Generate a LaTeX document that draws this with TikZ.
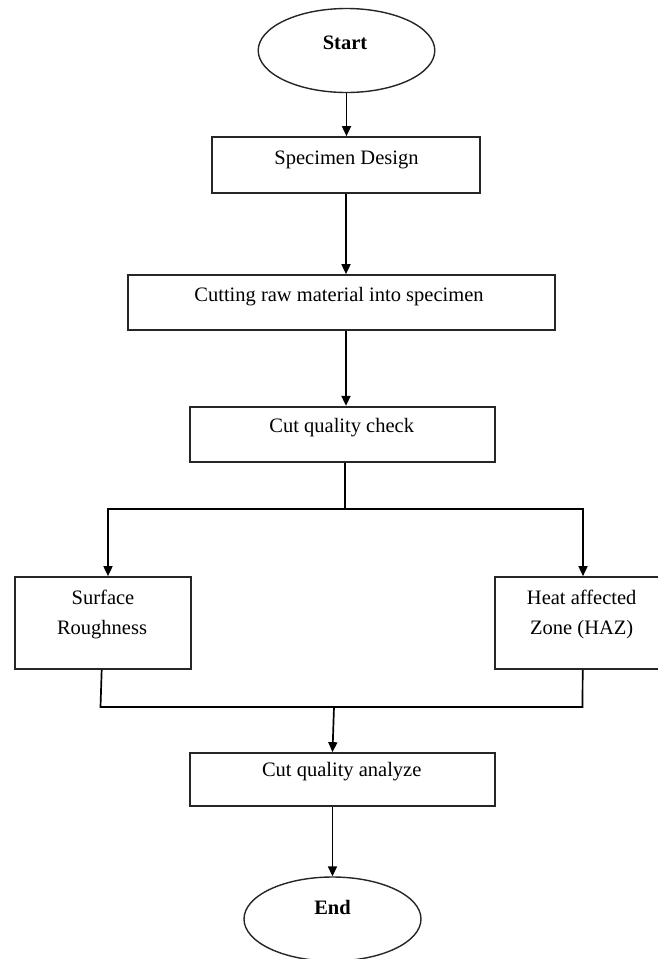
\documentclass[tikz,border=0pt]{standalone}
\usepackage{fontspec}
\setmainfont{Liberation Serif}
\usetikzlibrary{arrows.meta,shapes.geometric,calc}
\begin{document}
\begin{tikzpicture}[x=1pt,y=-1pt,line width=1.7pt,
  stepbox/.style={draw=black!85,line width=1.7pt,rectangle,inner sep=0pt},
  termbox/.style={draw=black!85,line width=1.4pt,ellipse,inner sep=0pt},
  lbl/.style={anchor=base,inner sep=0pt,font=\fontsize{20.5}{30}\selectfont},
  arr/.style={-{Triangle[length=10pt,width=9pt]}}]
\clip (0,0) rectangle (658,959);
\fill[white] (0,0) rectangle (658,959);
% shapes
\node[termbox,minimum width=176.6pt,minimum height=84pt] (start) at (346.5,50.5) {};
\node[stepbox,minimum width=268pt,minimum height=56pt] (sd) at (346,165) {};
\node[stepbox,minimum width=427pt,minimum height=55pt] (cut) at (341.5,302.5) {};
\node[stepbox,minimum width=304.7pt,minimum height=55pt] (cqc) at (342.3,434.2) {};
\node[stepbox,minimum width=175.7pt,minimum height=92pt] (sr) at (102.85,623) {};
\node[stepbox,minimum width=175.7pt,minimum height=92pt] (haz) at (582.55,623) {};
\node[stepbox,minimum width=305pt,minimum height=53pt] (cqa) at (342.5,779.5) {};
\node[termbox,minimum width=177pt,minimum height=84pt] (end) at (332.5,919) {};
% texts
\node[lbl,font=\fontsize{20.5}{30}\selectfont\bfseries] (tstart) at (345,49) {Start};
\node[lbl] (tsd) at (346.5,164) {Specimen Design};
\node[lbl] (tcut) at (339,301.5) {Cutting raw material into specimen};
\node[lbl] (tcqc) at (341.7,432.7) {Cut quality check};
\node[lbl] (tsr1) at (103,604) {Surface};
\node[lbl] (tsr2) at (102,634) {Roughness};
\node[lbl] (thaz1) at (581.7,604) {Heat affected};
\node[lbl] (thaz2) at (581.7,634) {Zone (HAZ)};
\node[lbl] (tcqa) at (341.7,776.7) {Cut quality analyze};
\node[lbl,font=\fontsize{20.5}{30}\selectfont\bfseries] (tend) at (332.5,914) {End};
% junction coordinates
\coordinate (col) at (346,0);
\coordinate (br) at (345,509);
\coordinate (bl) at (108,509);
\coordinate (brr) at (583,509);
\coordinate (jl) at (100.5,707);
\coordinate (jr) at (582.5,707);
\coordinate (jm) at (334,707);
% connectors
\draw[arr] (start.south) -- (start.south |- sd.north);
\draw[arr] (sd.south -| col) -- (cut.north -| col);
\draw[arr] (cut.south -| col) -- (cqc.north -| col);
\draw (cqc.south -| br) -- (br);
\draw[arr] (br) -- (bl) -- (bl |- sr.north);
\draw[arr] (br) -- (brr) -- (brr |- haz.north);
\draw ($(sr.south -| jl)+(1.2,0)$) -- (jl) -- (jr) -- ($(haz.south -| jr)+(0.2,0)$);
\draw[arr] (jm) -- (cqa.north -| end.north);
\draw[arr] (cqa.south -| end.north) -- (end.north);
\end{tikzpicture}
\end{document}
